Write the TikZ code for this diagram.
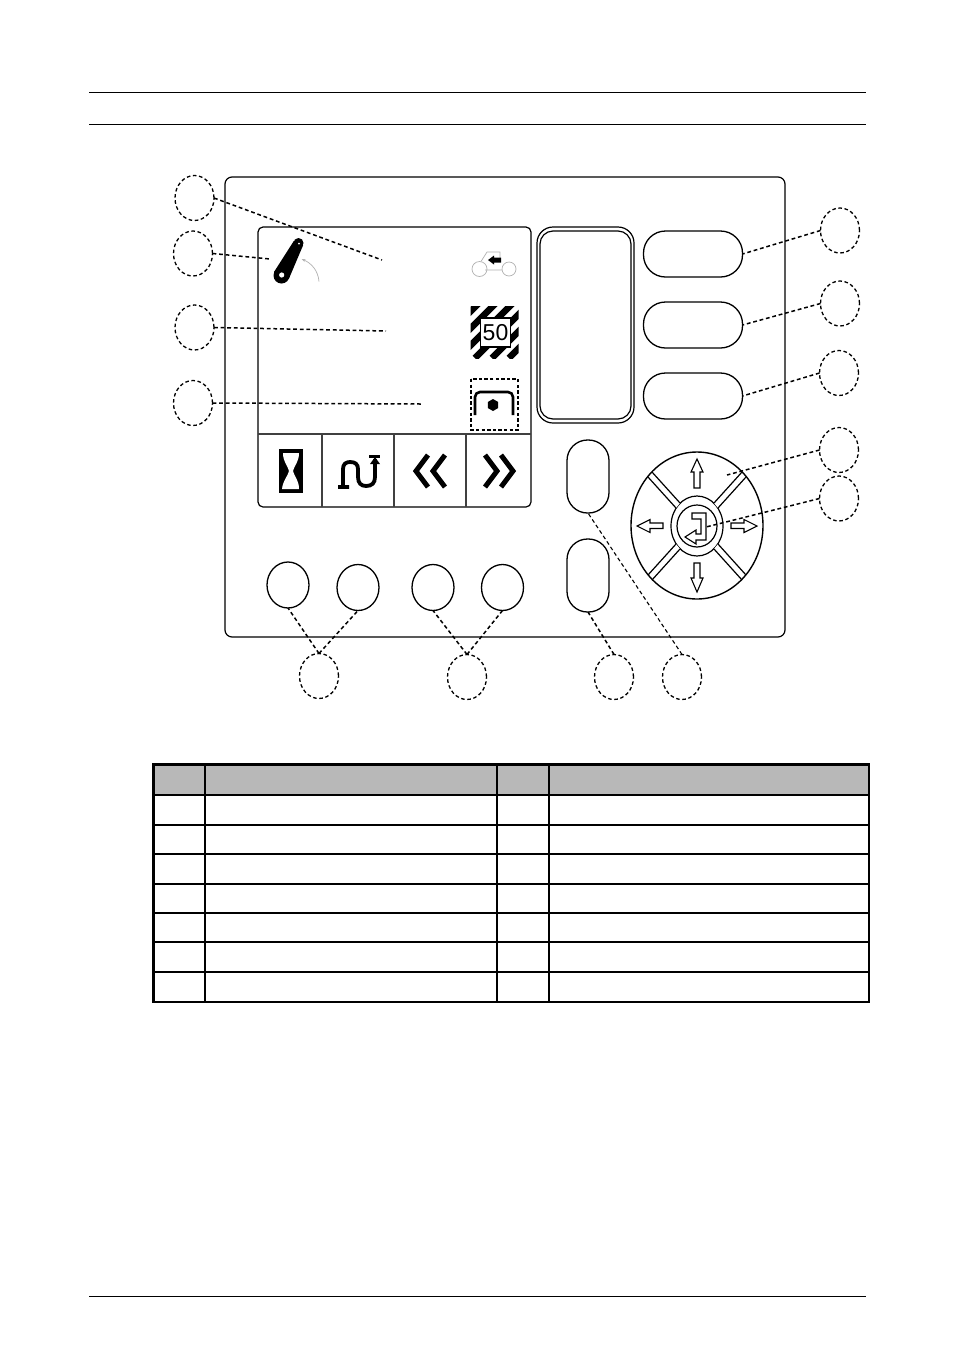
\documentclass[tikz,border=0pt]{standalone}
\usepackage{fontspec}
\setmainfont{Liberation Sans}
\usetikzlibrary{shapes.geometric,arrows.meta}
\tikzset{
 callout/.style={ellipse,draw,line width=1.3pt,dash pattern=on 3.6pt off 2.6pt,minimum width=39pt,minimum height=45pt,inner sep=0pt,outer sep=0pt},
 leader/.style={line width=1.5pt,dash pattern=on 3.8pt off 2.8pt},
 pill/.style={draw,line width=1.3pt,rounded corners=22pt,minimum width=99pt,minimum height=46pt,inner sep=0pt,outer sep=0pt},
 oval/.style={draw,line width=1.3pt,rounded corners=20.5pt,minimum width=42pt,inner sep=0pt,outer sep=0pt},
 softkey/.style={ellipse,draw,line width=1.3pt,minimum width=42pt,minimum height=46pt,inner sep=0pt,outer sep=0pt},
 panelline/.style={line width=1.2pt},
 thinicon/.style={gray!60,line width=.7pt},
 dialarrow/.style={line width=1.1pt,line join=miter},
 rowline/.style={line width=1.1pt},
 tableframe/.style={line width=2.6pt}
}
\begin{document}
\begin{tikzpicture}[x=1pt,y=-1pt]
 \useasboundingbox[fill=white] (0,0) rectangle (954,1350);
 \foreach \t in {92,124,1296} \draw[line width=.8pt] (89,\t) -- (866,\t);
 \draw[panelline,rounded corners=7pt] (225,177) rectangle (785,637);
 \draw[panelline,rounded corners=5pt] (258,227) rectangle (531,507);
 \draw[panelline,black!75] (258,434) -- (531,434);
 \foreach \t in {322,394,466} \draw[panelline,black!75] (\t,434) -- (\t,507);
 % display
 \draw[panelline,rounded corners=16pt] (537,227) rectangle (634,423);
 \draw[panelline,rounded corners=13pt] (540,231) rectangle (631,419);
 \node[pill] (keya) at (693,254) {};
 \node[pill] (keyb) at (693,325) {};
 \node[pill] (keyc) at (693,396) {};
 \node[oval,minimum height=73pt] (ovala) at (588,476.5) {};
 \node[oval,minimum height=73pt] (ovalb) at (588,575.5) {};
 \node[softkey] (softa) at (288,585) {};
 \node[softkey] (softb) at (358,587.5) {};
 \node[softkey] (softc) at (433,587.5) {};
 \node[softkey] (softd) at (502.5,587.5) {};
 % dial
 \draw[panelline] (697,526) ellipse [x radius=26,y radius=30];
 \foreach \sx/\sy in {1/1,-1/1,1/-1,-1/-1} {
  \fill[white] (697+\sx*17,526+\sy*23) -- (697+\sx*45,526+\sy*54) -- (697+\sx*49,526+\sy*49) -- (697+\sx*21,526+\sy*18) -- cycle;
  \draw[panelline] (697+\sx*17,526+\sy*23) -- (697+\sx*45,526+\sy*54);
  \draw[panelline] (697+\sx*21,526+\sy*18) -- (697+\sx*49,526+\sy*49);
 }
 \draw[line width=1.4pt] (697,525.5) ellipse [x radius=66,y radius=73.5];
 \node[ellipse,draw,line width=1.2pt,minimum width=40pt,minimum height=42pt,inner sep=0pt,outer sep=0pt] (enter) at (697,526) {};
 \draw[dialarrow] (697,459) -- (703,472) -- (700,472) -- (700,488) -- (694,488) -- (694,472) -- (691,472) -- cycle;
 \draw[dialarrow] (697,592) -- (703,578) -- (700,578) -- (700,563) -- (694,563) -- (694,578) -- (691,578) -- cycle;
 \draw[dialarrow] (637,526) -- (650,519.5) -- (650,523) -- (663,523) -- (663,528.5) -- (650,528.5) -- (650,532.5) -- cycle;
 \draw[dialarrow] (757,526) -- (744,519.5) -- (744,523) -- (731,523) -- (731,528.5) -- (744,528.5) -- (744,532.5) -- cycle;
 \draw[dialarrow] (692,513) -- (706,513) -- (706,540) -- (696,540) -- (696,544) -- (685,537) -- (696,530) -- (696,534) -- (701,534) -- (701,519) -- (692,519) -- cycle;
 % icons
 \fill (298.5,243) circle (5) (281.5,275.5) circle (8);
 \fill (293.8,241) -- (303.2,245) -- (288.8,279) -- (274,272) -- cycle;
 \fill[white] (299,243.5) circle (1) (281.7,275) circle (2.6);
 \draw[thinicon,-{Stealth[length=4pt,width=3pt]}] (319,281.5) .. controls (318,270) and (311,263) .. (301.5,259);
 \draw[thinicon] (479.5,269) circle (7.5) (509,269) circle (7);
 \draw[thinicon] (481,261.5) -- (487,252) -- (500,252) -- (500,261.5) (485,270) -- (502,270);
 \fill (488,260) -- (494,255.5) -- (494,257.5) -- (501,257.5) -- (501,262.5) -- (494,262.5) -- (494,264.5) -- cycle;
 \begin{scope}
  \clip (470.5,306) rectangle (518.5,358);
  \foreach \d in {-46,-29,-12,5,22,39,56}
   \draw[line width=6.6pt] (470+\d,358) -- ++(60,-60);
 \end{scope}
 \node[draw,fill=white,line width=1.1pt,minimum width=30pt,minimum height=29pt,inner sep=0pt,font=\fontsize{23pt}{23pt}\selectfont] (sign) at (495.5,332.5) {50};
 \draw[line width=1.6pt,dash pattern=on 3.4pt off 2.2pt] (471,379) rectangle (518,430);
 \draw[line width=2.6pt,rounded corners=5pt] (475,415) -- (475,392) -- (513,392) -- (513,415);
 \node[regular polygon,regular polygon sides=6,fill,minimum size=12pt,inner sep=0pt,rotate=30] (hexdot) at (493,405) {};
 \fill (279,449) rectangle (303,493);
 \fill[white] (283,453) -- (299,453) .. controls (299,462) and (294,466) .. (293,471) .. controls (294,476) and (299,480) .. (299,489) -- (282,489) .. controls (283,480) and (288,476) .. (289,471) .. controls (288,466) and (283,462) .. (283,453) -- cycle;
 \draw[line width=3.8pt] (338,487) -- (349,487) (343,487) -- (343,469) .. controls (343,464) and (346,462) .. (350,462) .. controls (355,462) and (358,464) .. (358,469) -- (358,477) .. controls (358,483) and (361,486) .. (366,486) .. controls (372,486) and (375,483) .. (375,477) -- (375,459);
 \draw[line width=3pt] (369,456) -- (380,456);
 \fill (375,457) -- (380,464) -- (370,464) -- cycle;
 \foreach \x in {428,445} \draw[line width=5pt,line join=miter] (\x,455) -- (\x-12,471) -- (\x,487);
 \foreach \x in {485,501} \draw[line width=5pt,line join=miter] (\x,455) -- (\x+12,471) -- (\x,487);
 % callouts
 \node[callout] (cone) at (194.5,198) {};
 \node[callout] (ctwo) at (193,253.5) {};
 \node[callout] (cthree) at (194.5,327.5) {};
 \node[callout] (cfour) at (193,403) {};
 \node[callout] (cfive) at (840,230.5) {};
 \node[callout] (csix) at (840,303.5) {};
 \node[callout] (cseven) at (839,373) {};
 \node[callout] (ceight) at (839,450) {};
 \node[callout] (cnine) at (839,498.5) {};
 \node[callout] (cten) at (319,676) {};
 \node[callout] (celeven) at (467,677) {};
 \node[callout] (ctwelve) at (614,677) {};
 \node[callout] (cthirteen) at (682,677) {};
 \coordinate (endone) at (382,260);
 \coordinate (endtwo) at (270,259);
 \coordinate (endthree) at (386,331);
 \coordinate (endfour) at (421,404);
 \coordinate (endeight) at (727,475);
 \coordinate (endnine) at (706,527);
 \draw[leader] (cone.east) -- (endone);
 \draw[leader] (ctwo.east) -- (endtwo);
 \draw[leader] (cthree.east) -- (endthree);
 \draw[leader] (cfour.east) -- (endfour);
 \draw[leader] (cfive.west) -- (keya.east);
 \draw[leader] (csix.west) -- (keyb.east);
 \draw[leader] (cseven.west) -- (keyc.east);
 \draw[leader] (ceight.west) -- (endeight);
 \draw[leader] (cnine.west) -- (endnine);
 \draw[leader] (cten.north) -- (softa.south);
 \draw[leader] (cten.north) -- (softb.south);
 \draw[leader] (celeven.north) -- (softc.south);
 \draw[leader] (celeven.north) -- (softd.south);
 \draw[leader] (ctwelve.north) -- (ovalb.south);
 \draw[leader,line width=1.1pt] (cthirteen.north) -- (ovala.south);
 % table
 \fill[black!28] (153,764) rectangle (869,795);
 \foreach \t in {825,854,884,913,942,972} \draw[rowline] (153,\t) -- (869,\t);
 \foreach \t in {205,549} \draw[line width=1.3pt] (\t,764) -- (\t,1002);
 \draw[line width=2.2pt] (497,764) -- (497,1002);
 \draw[line width=2.2pt] (153,795) -- (869,795);
 \draw[tableframe] (153.5,764.5) rectangle (869,1002);
\end{tikzpicture}
\end{document}
